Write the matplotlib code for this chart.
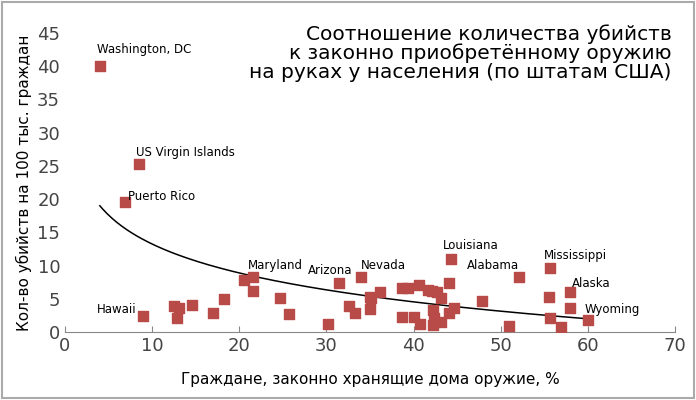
import numpy as np
import matplotlib
matplotlib.use("Agg")
import matplotlib.pyplot as plt
from matplotlib.patches import Rectangle

x = [4.0, 8.5, 6.9, 9.0, 12.5, 13.1, 12.9, 14.6, 17.0, 18.3, 20.5, 21.6, 21.6, 24.7, 25.7,
     30.2, 31.4, 34.0, 32.6, 33.3, 35.0, 35.0, 36.2, 38.7, 39.4, 40.6, 41.6, 42.1, 42.7,
     43.2, 44.1, 44.3, 38.7, 40.0, 40.7, 42.2, 42.3, 42.2, 43.1, 44.1, 44.6, 47.9, 52.1,
     50.9, 55.6, 55.5, 55.6, 56.9, 57.9, 58.0, 60.0, 35.1]
y = [40.1, 25.3, 19.6, 2.4, 3.9, 3.6, 2.1, 4.1, 2.9, 5.0, 7.8, 8.3, 6.2, 5.1, 2.7,
     1.2, 7.4, 8.3, 3.9, 2.8, 5.3, 3.5, 6.0, 6.6, 6.6, 7.1, 6.3, 6.2, 6.0,
     5.1, 7.4, 11.0, 2.3, 2.3, 1.2, 3.3, 2.1, 1.0, 1.5, 2.9, 3.6, 4.6, 8.3,
     0.9, 9.7, 5.2, 2.1, 0.7, 3.6, 6.0, 1.8, 5.1]
labels = {"Washington, DC": (4.0, 40.1), "US Virgin Islands": (8.5, 25.3), "Puerto Rico": (6.9, 19.6),
          "Hawaii": (9.0, 2.4), "Maryland": (21.6, 8.3), "Arizona": (31.4, 7.4), "Nevada": (34.0, 8.3),
          "Louisiana": (44.3, 11.0), "Alabama": (52.1, 8.3), "Mississippi": (55.6, 9.7),
          "Alaska": (58.0, 6.0), "Wyoming": (60.0, 1.8)}
trend_a, trend_b = 27.7, 6.28

# (dx, dy, ha) offsets in points
offsets = {"Washington, DC": (-2, 9, "left"), "US Virgin Islands": (-2, 6, "left"),
           "Puerto Rico": (2, 1, "left"), "Hawaii": (-5, 2, "right"), "Maryland": (-4, 6, "left"),
           "Arizona": (-6, 6, "center"), "Nevada": (0, 6, "left"), "Louisiana": (-6, 7, "left"),
           "Alabama": (0, 6, "right"), "Mississippi": (-4, 6, "left"), "Alaska": (1, 4, "left"),
           "Wyoming": (-2, 5, "left")}

fig = plt.figure(figsize=(6.96, 4.0), dpi=100)
ax = fig.add_axes([65/696, 68/400, 610/696, 299/400])
ax.scatter(x, y, marker="s", s=45, color="#b84a48", zorder=3)
xs = np.linspace(4, 60, 200)
ax.plot(xs, trend_a - trend_b*np.log(xs), color="black", lw=1.1)
for name, (px, py) in labels.items():
    dx, dy, ha = offsets[name]
    ax.annotate(name, (px, py), xytext=(dx, dy), textcoords="offset points", ha=ha, fontsize=8.5)
ax.set_xlim(0, 70)
ax.set_ylim(0, 45)
ax.set_xticks(range(0, 71, 10))
ax.set_yticks(range(0, 46, 5))
for s in ["top", "right", "left"]:
    ax.spines[s].set_visible(False)
ax.spines["bottom"].set_color("#888888")
ax.tick_params(axis="both", labelsize=13, colors="#444444", length=0)
ax.tick_params(axis="x", length=4, color="#888888", direction="in")
ax.set_xlabel("Граждане, законно хранящие дома оружие, %", fontsize=11, labelpad=12)
ax.set_ylabel("Кол-во убийств на 100 тыс. граждан", fontsize=11)
fig.text(0.965, 0.94, "Соотношение количества убийств\nк законно приобретённому оружию\nна руках у населения (по штатам США)",
         ha="right", va="top", fontsize=14.5, linespacing=1.0, fontweight="medium")
fig.patches.append(Rectangle((0.003, 0.005), 0.994, 0.99, transform=fig.transFigure,
                             fill=False, ec="#aaaaaa", lw=1.5))
fig.savefig("out.png", dpi=100)
